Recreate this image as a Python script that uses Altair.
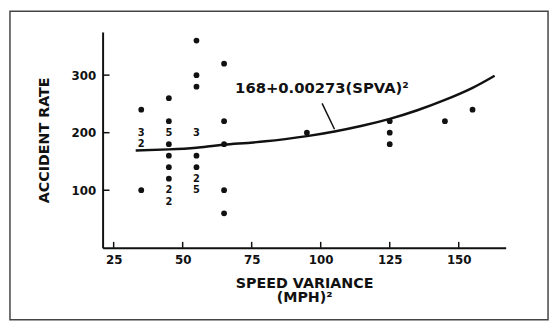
import altair as alt
import pandas as pd

# single observations (dots)
dot_x = [35, 35, 45, 45, 45, 45, 45, 45, 55, 55, 55, 55, 55,
         65, 65, 65, 65, 65, 95, 125, 125, 125, 145, 155]
dot_y = [240, 100, 260, 220, 180, 160, 140, 120, 360, 300, 280, 160, 140,
         320, 220, 180, 100, 60, 200, 220, 200, 180, 220, 240]
# coincident observations shown as counts
count_x = [35, 35, 45, 45, 45, 55, 55, 55]
count_y = [200, 180, 200, 100, 80, 200, 120, 100]
count_label = ["3", "2", "5", "2", "2", "3", "2", "5"]
# fitted curve, as drawn
curve_x = [33, 45, 55, 65, 80, 95, 105, 115, 125, 135, 145, 155, 163]
curve_y = [169, 171, 174, 179, 185, 194, 202, 212, 224, 239, 257, 278, 299]
# annotation and its pointer
pointer_x = [100.5, 105]
pointer_y = [251, 206]
note_x = [69]
note_y = [269]
note_text = ["168+0.00273(SPVA)²"]
# axis ticks
x_ticks = [25, 50, 75, 100, 125, 150]
y_ticks = [100, 200, 300]

FONT = "DejaVu Sans"
INK = "#111111"

xs = alt.Scale(domain=[21, 167], nice=False, zero=False)
ys = alt.Scale(domain=[0, 375], nice=False, zero=False)
xaxis = alt.Axis(values=x_ticks, title=["SPEED VARIANCE", "(MPH)²"], grid=False,
                 ticks=False, domainColor=INK, domainWidth=2, labelFont=FONT,
                 labelFontSize=12, labelFontWeight="bold", labelColor=INK,
                 labelPadding=7, titleFont=FONT, titleFontSize=14.5,
                 titleFontWeight="bold", titleColor=INK, titlePadding=11,
                 titleLineHeight=15)
yaxis = alt.Axis(values=y_ticks, title="ACCIDENT RATE", grid=False,
                 ticks=False, domainColor=INK, domainWidth=2, labelFont=FONT,
                 labelFontSize=12, labelFontWeight="bold", labelColor=INK,
                 labelPadding=7, titleFont=FONT, titleFontSize=14.5,
                 titleFontWeight="bold", titleColor=INK, titlePadding=20)

X = lambda: alt.X("x:Q", scale=xs, axis=xaxis)
Y = lambda: alt.Y("y:Q", scale=ys, axis=yaxis)

dots = alt.Chart(pd.DataFrame({"x": dot_x, "y": dot_y})).mark_circle(
    size=34, color=INK, opacity=1).encode(x=X(), y=Y())

counts = alt.Chart(pd.DataFrame({"x": count_x, "y": count_y, "t": count_label})).mark_text(
    font=FONT, fontSize=10, fontWeight="bold", color=INK, align="center",
    baseline="middle").encode(x=X(), y=Y(), text="t:N")

curve = alt.Chart(pd.DataFrame({"x": curve_x, "y": curve_y})).mark_line(
    color=INK, strokeWidth=2.5, interpolate="natural").encode(x=X(), y=Y())

pointer = alt.Chart(pd.DataFrame({"x": pointer_x, "y": pointer_y})).mark_line(
    color=INK, strokeWidth=1.5).encode(x=X(), y=Y())

note = alt.Chart(pd.DataFrame({"x": note_x, "y": note_y, "t": note_text})).mark_text(
    font=FONT, fontSize=15, fontWeight="bold", color=INK, align="left",
    baseline="alphabetic").encode(x=X(), y=Y(), text="t:N")

xtick = alt.Chart(pd.DataFrame({"x": x_ticks})).mark_rule(
    color=INK, strokeWidth=1.5).encode(x=X(), y=alt.value(213), y2=alt.value(219))

ytick = alt.Chart(pd.DataFrame({"y": y_ticks})).mark_rule(
    color=INK, strokeWidth=1.5).encode(y=Y(), x=alt.value(0), x2=alt.value(7))

frame = alt.Chart(pd.DataFrame({"a": [0]})).mark_rect(
    fill="transparent", stroke="#444444", strokeWidth=1.5).encode(
    x=alt.value(-94), x2=alt.value(452), y=alt.value(-21), y2=alt.value(292))

chart = alt.layer(frame, curve, pointer, xtick, ytick, dots, counts, note).properties(
    width=409, height=219,
    autosize=alt.AutoSizeParams(type="none"),
    padding={"left": 96, "top": 22, "right": 46, "bottom": 75},
    background="white",
).configure_view(stroke="transparent")

chart.save("out.html", embed_options={"renderer": "svg", "actions": False})
